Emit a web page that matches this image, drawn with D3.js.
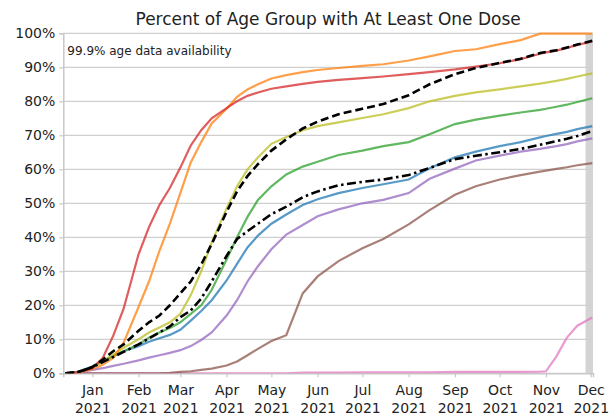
<!DOCTYPE html>
<html>
<head>
<meta charset="utf-8">
<script src="https://cdn.jsdelivr.net/npm/d3@7"></script>
<style>
  body { margin: 0; background: #fff; }
  text { font-family: "DejaVu Sans", sans-serif; fill: #222; }
</style>
</head>
<body>
<div id="chart"></div>
<script>
// sample dates shared by every series
var dates = ["2020-12-14","2020-12-22","2021-01-01","2021-01-08","2021-01-15","2021-01-22",
  "2021-02-01","2021-02-08","2021-02-15","2021-02-22","2021-03-01","2021-03-08","2021-03-15",
  "2021-03-22","2021-04-01","2021-04-08","2021-04-15","2021-04-22","2021-05-01","2021-05-11",
  "2021-05-22","2021-06-01","2021-06-15","2021-07-01","2021-07-15","2021-08-01","2021-08-15",
  "2021-09-01","2021-09-15","2021-10-01","2021-10-15","2021-10-28","2021-11-01","2021-11-08",
  "2021-11-15","2021-11-22","2021-12-02"];

var age75plus = [0,0.3,1.5,4.5,11,19,35,43,49.5,54.5,60.5,67,71.5,75,78,80,81.6,82.6,83.7,84.4,85.1,
  85.7,86.3,86.8,87.3,88,88.6,89.4,90.2,91.2,92.4,94,94.4,94.9,95.7,96.6,97.6];
var age65to74 = [0,0.2,1.2,2.5,4.5,9,19.5,27,36,44,53,62,68,73.5,77.8,81.3,83.5,85,86.7,87.7,88.6,
  89.2,89.8,90.4,90.9,92,93.2,94.8,95.3,96.8,98,99.9,99.9,99.9,99.9,99.9,99.9];
var age50to64 = [0,0.3,1.8,3.5,5.5,7.5,10,12,13.5,15,17.5,23,30,38.5,48.5,55,60,63.5,67.5,69.5,71.5,
  72.7,73.8,75.1,76.2,78,80,81.6,82.6,83.5,84.4,85.2,85.5,86,86.6,87.3,88.2];
var age40to49 = [0,0.3,1.8,3.5,5,6.5,8.5,10.5,12,13.3,15,17.5,20,24.5,33.5,40,46,51,55,58.5,60.8,
  62.2,64.2,65.5,66.8,68,70.3,73.3,74.6,75.8,76.7,77.5,77.8,78.4,79,79.8,80.9];
var age25to39 = [0,0.4,2,3.8,5,6.5,8,9.3,10.3,11.3,12.8,15.5,18.3,21.5,27.3,32.2,37,40.5,44,46.7,49.5,
  51.2,53,54.5,55.6,57,60.3,63.5,65.2,66.8,68,69.4,69.8,70.4,71,71.8,72.7];
var age18to24 = [0,0.2,1,1.5,2.2,2.8,3.8,4.6,5.3,6,6.8,8,9.8,12,17,21.5,27,31.5,36.5,40.8,43.6,
  46.2,48.2,50,51,53,57.2,60.2,62.6,64,65.2,66,66.3,66.8,67.4,68.2,69.1];
var age12to17 = [0,0,0,0,0,0,0,0,0,0.1,0.4,0.6,1,1.4,2.3,3.5,5.3,7.2,9.5,11.2,23.5,
  28.5,33,36.8,39.5,43.8,48,52.5,55,57,58.3,59.3,59.6,60.1,60.6,61.2,61.8];
var age5to11 = [0,0,0,0,0,0,0,0,0,0,0,0,0,0,0,0,0,0,0,0,0.2,
  0.2,0.2,0.3,0.3,0.3,0.3,0.4,0.4,0.4,0.4,0.5,0.6,5,10.5,14,16.4];
var age65plus = [0,0.3,1.8,4,6.5,8.5,12.5,15,17,20,23.5,27,32,38,47.5,53.5,58,61.5,65.5,68.8,72,
  74,76.2,77.8,79.2,81.8,85,88,89.8,91.3,92.5,94.2,94.5,95,95.8,96.7,97.8];
var totalPop = [0,0.3,1.8,3.3,4.8,6.3,8.5,10.3,12,13.8,16.5,18.5,22,27,34.5,39.5,41.8,44,46.8,49,51.8,
  53.5,55.3,56.3,57,58.3,60.4,63,64,65,66,67.2,67.6,68.3,69,69.8,71.2];

var yTicks = [0,10,20,30,40,50,60,70,80,90,100];

var parseDate = d3.utcParse("%Y-%m-%d");
var dateValues = dates.map(parseDate);

var svgWidth = 616;
var svgHeight = 417;
var margin = { top: 33.3, right: 23, bottom: 43.7, left: 63.3 };
var width = svgWidth - margin.left - margin.right;
var height = svgHeight - margin.top - margin.bottom;

var svg = d3.select("#chart")
  .append("svg")
  .attr("width", svgWidth)
  .attr("height", svgHeight);

var chartGroup = svg.append("g")
  .attr("transform", `translate(${margin.left}, ${margin.top})`);

var xTimeScale = d3.scaleUtc()
  .domain([new Date(Date.UTC(2020, 11, 12, 14)), new Date(Date.UTC(2021, 11, 2, 12))])
  .range([0, width]);

var yLinearScale = d3.scaleLinear()
  .domain([0, 100])
  .range([height, 0]);

// shaded band for the most recent (incomplete) week
chartGroup.append("rect")
  .attr("x", xTimeScale(new Date(Date.UTC(2021, 10, 27, 12))))
  .attr("y", 0)
  .attr("width", width - xTimeScale(new Date(Date.UTC(2021, 10, 27, 12))))
  .attr("height", height)
  .attr("fill", "#d4d4d4");

// horizontal grid
chartGroup.append("g")
  .selectAll("line")
  .data(yTicks)
  .enter()
  .append("line")
  .attr("x1", 0)
  .attr("x2", width)
  .attr("y1", d => yLinearScale(d))
  .attr("y2", d => yLinearScale(d))
  .attr("stroke", "#cfcfcf")
  .attr("stroke-width", 1.2);

// y axis
var yAxis = d3.axisLeft(yLinearScale)
  .tickValues(yTicks)
  .tickFormat(d => d + "%")
  .tickSize(4)
  .tickPadding(4);

var yAxisGroup = chartGroup.append("g").call(yAxis);
yAxisGroup.selectAll("text").attr("font-size", "14px").attr("font-family", "DejaVu Sans");
yAxisGroup.selectAll("line").attr("stroke", "#c8c8c8").attr("stroke-width", 1.2);
yAxisGroup.select(".domain").attr("stroke", "#c8c8c8").attr("stroke-width", 1.5);

// x axis, monthly ticks with two line labels
var monthTicks = d3.utcMonths(new Date(Date.UTC(2021, 0, 1)), new Date(Date.UTC(2021, 11, 2)));
var xAxis = d3.axisBottom(xTimeScale)
  .tickValues(monthTicks)
  .tickFormat("")
  .tickSize(4);

var xAxisGroup = chartGroup.append("g")
  .attr("transform", `translate(0, ${height})`)
  .call(xAxis);
xAxisGroup.selectAll("line").attr("stroke", "#c8c8c8").attr("stroke-width", 1.2);
xAxisGroup.select(".domain").attr("stroke", "#c8c8c8").attr("stroke-width", 1.5);

var monthLabels = xAxisGroup.selectAll(".tick")
  .append("text")
  .attr("text-anchor", "middle")
  .attr("font-size", "14px")
  .attr("font-family", "DejaVu Sans")
  .attr("fill", "#222");
monthLabels.append("tspan").attr("x", 0).attr("y", 21.5).text(d => d3.utcFormat("%b")(d));
monthLabels.append("tspan").attr("x", 0).attr("y", 39.5).text(d => d3.utcFormat("%Y")(d));

// clip
svg.append("defs").append("clipPath").attr("id", "plotClip")
  .append("rect").attr("x", 0).attr("y", -2).attr("width", width).attr("height", height + 2);

var lineGen = d3.line()
  .x((d, i) => xTimeScale(dateValues[i]))
  .y(d => yLinearScale(d));

var seriesList = [
  { name: "5-11", values: age5to11, color: "#e377c2" },
  { name: "12-17", values: age12to17, color: "#8c564b" },
  { name: "18-24", values: age18to24, color: "#9467bd" },
  { name: "25-39", values: age25to39, color: "#1f77b4" },
  { name: "40-49", values: age40to49, color: "#2ca02c" },
  { name: "50-64", values: age50to64, color: "#bcbd22" },
  { name: "65-74", values: age65to74, color: "#ff7f0e" },
  { name: "75+", values: age75plus, color: "#d62728" }
];

var linesGroup = chartGroup.append("g").attr("clip-path", "url(#plotClip)");

linesGroup.selectAll("path.age")
  .data(seriesList)
  .enter()
  .append("path")
  .attr("class", "age")
  .attr("d", d => lineGen(d.values))
  .attr("fill", "none")
  .attr("stroke", d => d.color)
  .attr("stroke-opacity", 0.75)
  .attr("stroke-width", 2.2);

// 65+ dashed
linesGroup.append("path")
  .attr("d", lineGen(age65plus))
  .attr("fill", "none")
  .attr("stroke", "#000")
  .attr("stroke-width", 2.6)
  .attr("stroke-dasharray", "8,4");

// whole population dash-dot
linesGroup.append("path")
  .attr("d", lineGen(totalPop))
  .attr("fill", "none")
  .attr("stroke", "#000")
  .attr("stroke-width", 2.6)
  .attr("stroke-dasharray", "9,3.5,2.5,3.5");

// title and note
svg.append("text")
  .attr("x", margin.left + width / 2)
  .attr("y", 25)
  .attr("text-anchor", "middle")
  .attr("font-size", "17px")
  .text("Percent of Age Group with At Least One Dose");

chartGroup.append("text")
  .attr("x", 4)
  .attr("y", 21.5)
  .attr("font-size", "12px")
  .text("99.9% age data availability");
</script>
</body>
</html>
